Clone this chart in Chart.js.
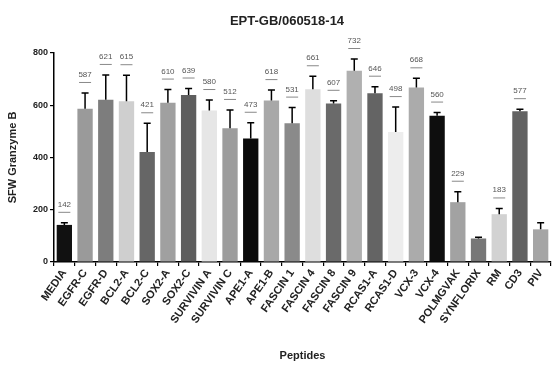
<!DOCTYPE html>
<html>
<head>
<meta charset="utf-8">
<script src="https://cdn.jsdelivr.net/npm/chart.js@4"></script>
<style>
  html, body { margin: 0; padding: 0; background: #fff; }
  #wrap { width: 560px; height: 371px; }
</style>
</head>
<body>
<div id="wrap"><canvas id="chart" width="560" height="371"></canvas></div>
<script>
// данные графика
const peptides = ['MEDIA', 'EGFR-C', 'EGFR-D', 'BCL2-A', 'BCL2-C', 'SOX2-A', 'SOX2-C', 'SURVIVIN A',
  'SURVIVIN C', 'APE1-A', 'APE1-B', 'FASCIN 1', 'FASCIN 4', 'FASCIN 8', 'FASCIN 9', 'RCAS1-A',
  'RCAS1-D', 'VCX-3', 'VCX-4', 'POLMGVAK', 'SYNFLORIX', 'RM', 'CD3', 'PIV'];
const means = [142, 587, 621, 615, 421, 610, 639, 580, 512, 473, 618, 531, 661, 607, 732, 646,
  498, 668, 560, 229, 90, 183, 577, 125];
const errors = [8, 60, 95, 100, 110, 50, 25, 40, 70, 60, 40, 60, 50, 10, 45, 25,
  95, 35, 12, 40, 5, 22, 8, 25];
const valueLabels = ['142', '587', '621', '615', '421', '610', '639', '580', '512', '473', '618', '531',
  '661', '607', '732', '646', '498', '668', '560', '229', null, '183', '577', null];
const barColors = ['#111111', '#9a9a9a', '#7d7d7d', '#cfcfcf', '#666666', '#a0a0a0', '#5e5e5e', '#e6e6e6',
  '#9c9c9c', '#0a0a0a', '#a8a8a8', '#8a8a8a', '#dedede', '#6a6a6a', '#b0b0b0', '#646464',
  '#ededed', '#ababab', '#0e0e0e', '#a2a2a2', '#777777', '#d2d2d2', '#626262', '#a5a5a5'];
const yTicks = [0, 200, 400, 600, 800];

const FONT = 'Liberation Sans, Arial, sans-serif';

// планки погрешностей и подписи значений
const errorBarPlugin = {
  id: 'errorBars',
  afterDatasetsDraw(chart) {
    const ctx = chart.ctx;
    const y = chart.scales.y;
    const meta = chart.getDatasetMeta(0);
    ctx.save();
    meta.data.forEach((bar, i) => {
      const top = y.getPixelForValue(means[i] + errors[i]);
      const base = y.getPixelForValue(means[i]);
      ctx.strokeStyle = '#000';
      ctx.lineWidth = 1.5;
      ctx.beginPath();
      ctx.moveTo(bar.x, base);
      ctx.lineTo(bar.x, top);
      ctx.moveTo(bar.x - 3.5, top);
      ctx.lineTo(bar.x + 3.5, top);
      ctx.stroke();
      if (valueLabels[i]) {
        ctx.fillStyle = '#555';
        ctx.font = '8px ' + FONT;
        ctx.textAlign = 'center';
        ctx.textBaseline = 'alphabetic';
        ctx.fillText(valueLabels[i], bar.x, top - 16);
        ctx.strokeStyle = '#888';
        ctx.lineWidth = 1;
        ctx.beginPath();
        ctx.moveTo(bar.x - 6, top - 10.5);
        ctx.lineTo(bar.x + 6, top - 10.5);
        ctx.stroke();
      }
    });
    // заголовок
    ctx.fillStyle = '#222';
    ctx.font = 'bold 13px ' + FONT;
    ctx.textAlign = 'center';
    ctx.textBaseline = 'middle';
    ctx.fillText('EPT-GB/060518-14', 287, 21);
    ctx.restore();
  }
};

const chart = new Chart(document.getElementById('chart'), {
  type: 'bar',
  data: {
    labels: peptides,
    datasets: [{
      data: means,
      backgroundColor: barColors,
      borderWidth: 0,
      barPercentage: 0.74,
      categoryPercentage: 1
    }]
  },
  options: {
    responsive: false,
    animation: false,
    devicePixelRatio: 1,
    layout: { padding: { top: 53, right: 9, left: 6, bottom: 6 } },
    plugins: {
      legend: { display: false },
      tooltip: { enabled: false }
    },
    scales: {
      x: {
        afterFit: s => { s.height = 103; },
        grid: { display: true, drawOnChartArea: false, drawTicks: true, tickLength: 4, color: '#000', lineWidth: 1.2 },
        border: { color: '#000', width: 1.5 },
        ticks: {
          color: '#222',
          font: { family: FONT, size: 11, weight: 'bold' },
          minRotation: 55,
          maxRotation: 55,
          autoSkip: false,
          padding: 1
        },
        title: {
          display: true,
          text: 'Peptides',
          color: '#222',
          font: { family: FONT, size: 11, weight: 'bold' },
          padding: { top: 0, bottom: 2 }
        }
      },
      y: {
        min: 0,
        max: 800,
        afterFit: s => { s.width = 48; },
        afterBuildTicks: s => { s.ticks = yTicks.map(v => ({ value: v })); },
        grid: { display: true, drawOnChartArea: false, drawTicks: true, tickLength: 4, color: '#000', lineWidth: 1.2 },
        border: { color: '#000', width: 1.5 },
        ticks: {
          color: '#222',
          font: { family: FONT, size: 9, weight: 'bold' },
          padding: 2
        },
        title: {
          display: true,
          text: 'SFW Granzyme B',
          color: '#222',
          font: { family: FONT, size: 11, weight: 'bold' },
          padding: { top: 0, bottom: 4 }
        }
      }
    }
  },
  plugins: [errorBarPlugin]
});
</script>
</body>
</html>
